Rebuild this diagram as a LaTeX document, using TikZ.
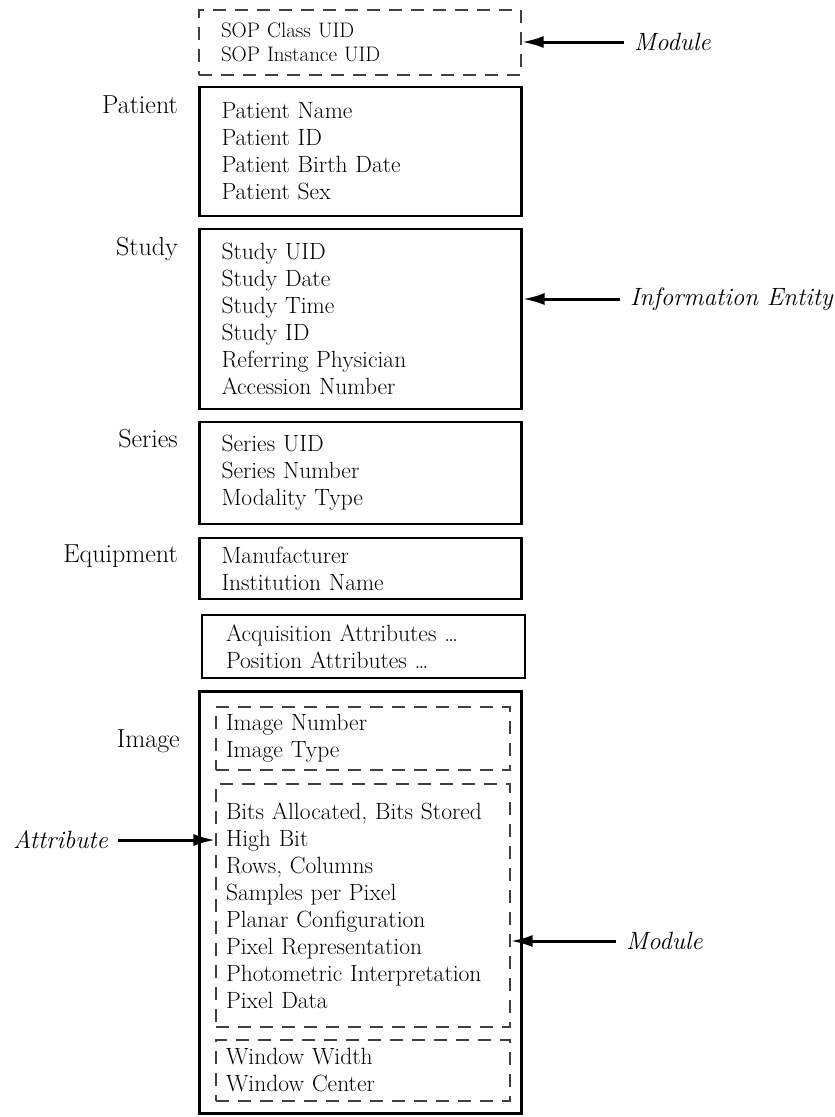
\documentclass[tikz,border=0pt]{standalone}
\usepackage{fontspec}
\usepackage{tikz}
\usetikzlibrary{arrows.meta,positioning,calc}
\tikzstyle{iebox} = [draw, line width=2.2pt, text width=278pt, inner xsep=22pt, align=left, font=\fontsize{23.5}{27}\selectfont]
\tikzstyle{modbox} = [draw=black!75, dash pattern=on 13pt off 9pt, line width=1.2pt, text width=274pt, inner xsep=10pt, align=left, font=\fontsize{23.5}{27}\selectfont]
\tikzstyle{lbl} = [anchor=base east, inner sep=0pt, font=\fontsize{26}{27}\selectfont]
\tikzstyle{note} = [inner xsep=10pt, inner ysep=0pt, font=\fontsize{25}{27}\selectfont\itshape]
\tikzset{>={Latex[length=22pt,width=12pt]}}

\begin{document}
\begin{tikzpicture}[x=1pt,y=-1pt]
    \useasboundingbox (0,0) rectangle (835,1117);
    % top module
    \node [modbox, text width=278pt, inner xsep=22pt, minimum height=65pt, font=\fontsize{21}{24}\selectfont] (sop) at (360,42.5) {SOP Class UID\\SOP Instance UID};
    % information entities
    \node [iebox, minimum height=129pt] (patient) at (360.5,151.5) {Patient Name\\Patient ID\\Patient Birth Date\\Patient Sex};
    \node [iebox, minimum height=180pt] (study) at (360.5,319) {Study UID\\Study Date\\Study Time\\Study ID\\Referring Physician\\Accession Number};
    \node [iebox, minimum height=102pt] (series) at (360.5,473) {Series UID\\Series Number\\Modality Type};
    \node [iebox, minimum height=61pt] (equip) at (360.5,568.5) {Manufacturer\\Institution Name};
    \node [iebox, minimum height=63pt, text width=275pt, inner xsep=24pt] (acq) at (363.5,646.5) {Acquisition Attributes \dots\\Position Attributes \dots};
    \node [iebox, minimum height=422pt, line width=3pt] (image) at (360.5,902) {};
    \node [modbox, minimum height=63pt] (imgnum) at (363,738.5) {Image Number\\Image Type};
    \node [modbox, minimum height=243pt] (pixel) at (363,905.5) {Bits Allocated, Bits Stored\\High Bit\\Rows, Columns\\Samples per Pixel\\Planar Configuration\\Pixel Representation\\Photometric Interpretation\\Pixel Data};
    \node [modbox, minimum height=61pt] (window) at (363,1070.5) {Window Width\\Window Center};

    % entity names
    \node [lbl] (patlbl) at (178,113) {Patient};
    \node [lbl] (stulbl) at (178,255) {Study};
    \node [lbl] (serlbl) at (178,447) {Series};
    \node [lbl] (equlbl) at (178,562) {Equipment};
    \node [lbl] (imglbl) at (180,747) {Image};

    % pointers
    \node [note, anchor=west] (modtop) at (624,42) {Module};
    \node [note, anchor=west] (infolbl) at (620,299) {Information Entity};
    \node [note, anchor=east] (attr) at (118,840) {Attribute};
    \node [note, anchor=west] (modlow) at (616,941) {Module};
    \draw [line width=3pt,->] (modtop.west) -- (sop.east |- modtop.west);
    \draw [line width=3pt,->] (infolbl.west) -- (study.east |- infolbl.west);
    \draw [line width=3pt,->] (attr.east) -- (pixel.west |- attr.east);
    \draw [line width=3pt,->] (modlow.west) -- (pixel.east |- modlow.west);
\end{tikzpicture}
\end{document}
